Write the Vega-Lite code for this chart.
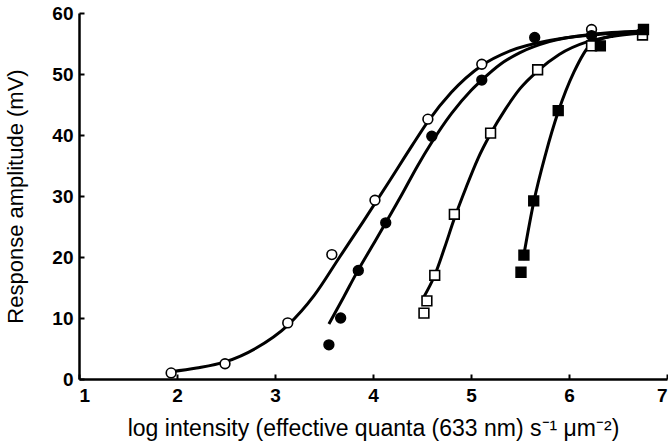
{
  "$schema": "https://vega.github.io/schema/vega-lite/v6.json",
  "width": 588,
  "height": 366,
  "autosize": {"type": "none"},
  "padding": {"left": 79, "top": 13, "right": 1, "bottom": 65},
  "background": "white",
  "config": {
    "view": {"stroke": null},
    "axis": {
      "grid": false,
      "domainColor": "black",
      "domainWidth": 2.5,
      "tickColor": "black",
      "tickWidth": 2,
      "labelFont": "Liberation Sans",
      "labelFontSize": 19,
      "labelFontWeight": "bold",
      "labelColor": "black",
      "titleFont": "Liberation Sans",
      "titleFontSize": 22,
      "titleFontWeight": "normal",
      "titleColor": "black"
    }
  },
  "datasets": {
    "pts": [
      {"s": "oc", "x": 1.94, "y": 1.0},
      {"s": "oc", "x": 2.49, "y": 2.5},
      {"s": "oc", "x": 3.13, "y": 9.2},
      {"s": "oc", "x": 3.58, "y": 20.4},
      {"s": "oc", "x": 4.02, "y": 29.3},
      {"s": "oc", "x": 4.56, "y": 42.6},
      {"s": "oc", "x": 5.11, "y": 51.6},
      {"s": "oc", "x": 6.23, "y": 57.3},
      {"s": "fc", "x": 3.55, "y": 5.6},
      {"s": "fc", "x": 3.67, "y": 10.0},
      {"s": "fc", "x": 3.85, "y": 17.8},
      {"s": "fc", "x": 4.13, "y": 25.6},
      {"s": "fc", "x": 4.60, "y": 39.8},
      {"s": "fc", "x": 5.11, "y": 49.0},
      {"s": "fc", "x": 5.65, "y": 56.0},
      {"s": "fc", "x": 6.23, "y": 56.3},
      {"s": "os", "x": 4.52, "y": 10.8},
      {"s": "os", "x": 4.55, "y": 12.8},
      {"s": "os", "x": 4.63, "y": 17.0},
      {"s": "os", "x": 4.83, "y": 27.0},
      {"s": "os", "x": 5.20, "y": 40.3},
      {"s": "os", "x": 5.68, "y": 50.7},
      {"s": "os", "x": 6.23, "y": 54.6},
      {"s": "os", "x": 6.75, "y": 56.4},
      {"s": "fs", "x": 5.51, "y": 17.5},
      {"s": "fs", "x": 5.54, "y": 20.3},
      {"s": "fs", "x": 5.64, "y": 29.2},
      {"s": "fs", "x": 5.89, "y": 44.0},
      {"s": "fs", "x": 6.32, "y": 54.6},
      {"s": "fs", "x": 6.76, "y": 57.3}
    ],
    "curves": [
      {"c": "A", "x": 1.94, "y": 1.2},
      {"c": "A", "x": 2.2, "y": 1.8},
      {"c": "A", "x": 2.49, "y": 2.8},
      {"c": "A", "x": 2.8, "y": 5.0},
      {"c": "A", "x": 3.13, "y": 8.8},
      {"c": "A", "x": 3.4, "y": 13.7},
      {"c": "A", "x": 3.66, "y": 20.0},
      {"c": "A", "x": 3.9, "y": 25.8},
      {"c": "A", "x": 4.17, "y": 32.5},
      {"c": "A", "x": 4.4, "y": 38.3},
      {"c": "A", "x": 4.56, "y": 42.2},
      {"c": "A", "x": 4.8, "y": 47.0},
      {"c": "A", "x": 5.11, "y": 51.4},
      {"c": "A", "x": 5.4, "y": 53.8},
      {"c": "A", "x": 5.8, "y": 55.5},
      {"c": "A", "x": 6.23, "y": 56.4},
      {"c": "A", "x": 6.72, "y": 56.9},
      {"c": "B", "x": 3.55, "y": 9.0},
      {"c": "B", "x": 3.7, "y": 13.4},
      {"c": "B", "x": 3.84, "y": 17.6},
      {"c": "B", "x": 4.0, "y": 22.0},
      {"c": "B", "x": 4.13, "y": 25.6},
      {"c": "B", "x": 4.3, "y": 30.4},
      {"c": "B", "x": 4.45, "y": 34.8},
      {"c": "B", "x": 4.6, "y": 38.8},
      {"c": "B", "x": 4.8, "y": 43.5},
      {"c": "B", "x": 5.0, "y": 47.3},
      {"c": "B", "x": 5.11, "y": 49.0},
      {"c": "B", "x": 5.3, "y": 51.6},
      {"c": "B", "x": 5.5, "y": 53.5},
      {"c": "B", "x": 5.8, "y": 55.3},
      {"c": "B", "x": 6.23, "y": 56.5},
      {"c": "B", "x": 6.72, "y": 57.0},
      {"c": "C", "x": 4.51, "y": 13.2},
      {"c": "C", "x": 4.63, "y": 17.0},
      {"c": "C", "x": 4.73, "y": 21.5},
      {"c": "C", "x": 4.83, "y": 26.3},
      {"c": "C", "x": 4.95, "y": 31.4},
      {"c": "C", "x": 5.07, "y": 36.1},
      {"c": "C", "x": 5.2, "y": 40.2},
      {"c": "C", "x": 5.35, "y": 44.2},
      {"c": "C", "x": 5.5, "y": 47.6},
      {"c": "C", "x": 5.68, "y": 50.5},
      {"c": "C", "x": 5.9, "y": 53.2},
      {"c": "C", "x": 6.19, "y": 55.3},
      {"c": "C", "x": 6.45, "y": 56.2},
      {"c": "C", "x": 6.72, "y": 56.7},
      {"c": "D", "x": 5.53, "y": 19.5},
      {"c": "D", "x": 5.64, "y": 29.0},
      {"c": "D", "x": 5.76, "y": 36.8},
      {"c": "D", "x": 5.89, "y": 43.8},
      {"c": "D", "x": 6.05, "y": 50.3},
      {"c": "D", "x": 6.22, "y": 54.8},
      {"c": "D", "x": 6.45, "y": 56.3},
      {"c": "D", "x": 6.72, "y": 57.0}
    ]
  },
  "layer": [
    {
      "data": {"name": "curves"},
      "mark": {"type": "line", "interpolate": "monotone", "color": "black", "strokeWidth": 3},
      "encoding": {
        "x": {
          "field": "x", "type": "quantitative",
          "scale": {"domain": [1, 7], "nice": false, "zero": false},
          "axis": {
            "values": [1, 2, 3, 4, 5, 6, 7],
            "format": "d",
            "tickSize": -5,
            "labelPadding": 12,
            "title": "log intensity (effective quanta (633 nm) s⁻¹ μm⁻²)",
            "titleFontSize": 23,
            "titlePadding": 12
          }
        },
        "y": {
          "field": "y", "type": "quantitative",
          "scale": {"domain": [0, 60], "nice": false},
          "axis": {
            "values": [0, 10, 20, 30, 40, 50, 60],
            "tickSize": -5,
            "labelPadding": 11,
            "title": "Response amplitude (mV)",
            "titlePadding": 24
          }
        },
        "detail": {"field": "c"}
      }
    },
    {
      "data": {"name": "pts"},
      "mark": {"type": "point", "filled": true, "stroke": "black", "strokeWidth": 1.6, "opacity": 1},
      "encoding": {
        "x": {"field": "x", "type": "quantitative"},
        "y": {"field": "y", "type": "quantitative"},
        "shape": {
          "field": "s", "type": "nominal",
          "scale": {"domain": ["oc", "fc", "os", "fs"], "range": ["circle", "circle", "square", "square"]},
          "legend": null
        },
        "fill": {
          "field": "s", "type": "nominal",
          "scale": {"domain": ["oc", "fc", "os", "fs"], "range": ["white", "black", "white", "black"]},
          "legend": null
        },
        "size": {"value": 95}
      }
    }
  ]
}
